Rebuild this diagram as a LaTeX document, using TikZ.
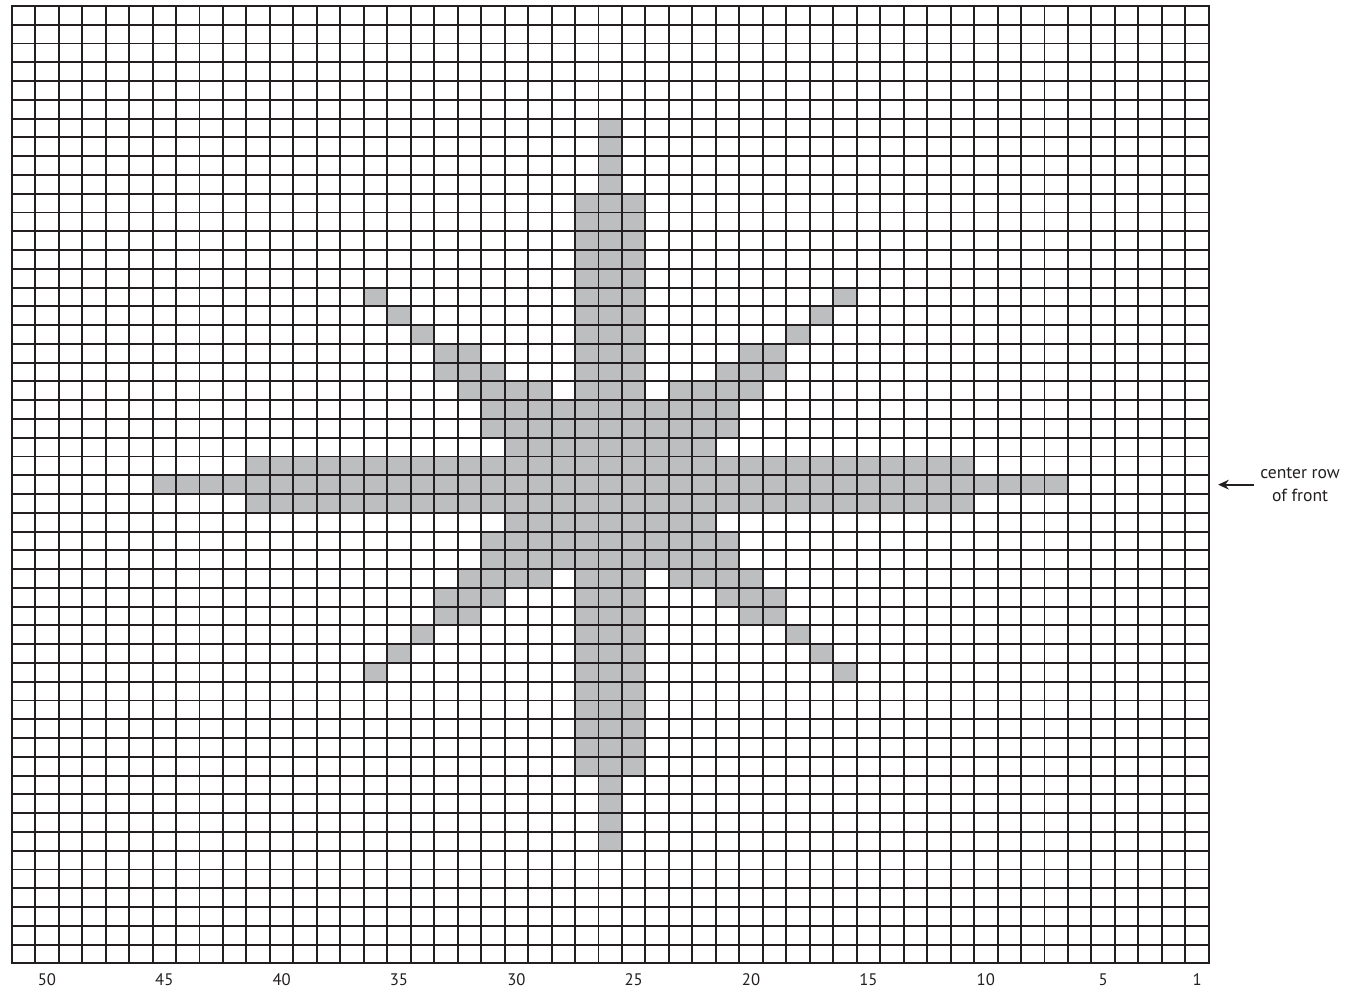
\documentclass[tikz,border=0pt]{standalone}
\usepackage{fontspec}
\setmainfont{PT Sans}
\usetikzlibrary{arrows.meta}
\definecolor{ink}{HTML}{231F20}
\definecolor{stitch}{HTML}{BCBEC0}
\tikzset{
  every picture/.style={line join=miter, >=Stealth},
  gridline/.style={ink, line width=1.1pt, line cap=rect},
  colnum/.style={ink, font=\fontsize{9.5}{11}\selectfont},
  pointer/.style={->, ink, line width=1pt, >={Stealth[length=6pt,width=5.5pt]}},
}
\begin{document}
\begin{tikzpicture}[x=0.4694cm,y=0.3754cm]
\useasboundingbox (-0.4985,-1.529) rectangle (57.40,51.32);
% star motif
\fill[stitch] (6,25) rectangle (45,26);
\fill[stitch] (10,24) rectangle (41,27);
\fill[stitch] (21,23) rectangle (30,28);
\fill[stitch] (20,21) rectangle (31,23);
\fill[stitch] (20,28) rectangle (31,30);
\fill[stitch] (24,10) rectangle (27,41);
\fill[stitch] (25,6) rectangle (26,45);
% diagonals, upper half
\fill[stitch] (19,30) rectangle (23,31);
\fill[stitch] (28,30) rectangle (32,31);
\fill[stitch] (18,31) rectangle (21,32);
\fill[stitch] (30,31) rectangle (33,32);
\fill[stitch] (18,32) rectangle (20,33);
\fill[stitch] (31,32) rectangle (33,33);
\fill[stitch] (17,33) rectangle (18,34);
\fill[stitch] (33,33) rectangle (34,34);
\fill[stitch] (16,34) rectangle (17,35);
\fill[stitch] (34,34) rectangle (35,35);
\fill[stitch] (15,35) rectangle (16,36);
\fill[stitch] (35,35) rectangle (36,36);
% diagonals, lower half
\fill[stitch] (19,20) rectangle (23,21);
\fill[stitch] (28,20) rectangle (32,21);
\fill[stitch] (18,19) rectangle (21,20);
\fill[stitch] (30,19) rectangle (33,20);
\fill[stitch] (18,18) rectangle (20,19);
\fill[stitch] (31,18) rectangle (33,19);
\fill[stitch] (17,17) rectangle (18,18);
\fill[stitch] (33,17) rectangle (34,18);
\fill[stitch] (16,16) rectangle (17,17);
\fill[stitch] (34,16) rectangle (35,17);
\fill[stitch] (15,15) rectangle (16,16);
\fill[stitch] (35,15) rectangle (36,16);
% chart grid
\draw[gridline] (0,0) grid[step={(1,1)}] (51,51);
\draw[gridline] (0,0) rectangle (51,51);
% stitch numbers
\node[colnum] (n50) at (1.5,-0.89) {50};
\node[colnum] (n45) at (6.5,-0.89) {45};
\node[colnum] (n40) at (11.5,-0.89) {40};
\node[colnum] (n35) at (16.5,-0.89) {35};
\node[colnum] (n30) at (21.5,-0.89) {30};
\node[colnum] (n25) at (26.5,-0.89) {25};
\node[colnum] (n20) at (31.5,-0.89) {20};
\node[colnum] (n15) at (36.5,-0.89) {15};
\node[colnum] (n10) at (41.5,-0.89) {10};
\node[colnum] (n5) at (46.5,-0.89) {5};
\node[colnum] (n1) at (50.5,-0.89) {1};
% center row marker
\node[colnum, align=center, font=\fontsize{10}{13}\selectfont] (centerrow) at (54.89,25.5) {center row\\of front};
\coordinate (rowtip) at (51.4,25.5);
\draw[pointer] (centerrow.west) -- (rowtip);
\end{tikzpicture}
\end{document}
